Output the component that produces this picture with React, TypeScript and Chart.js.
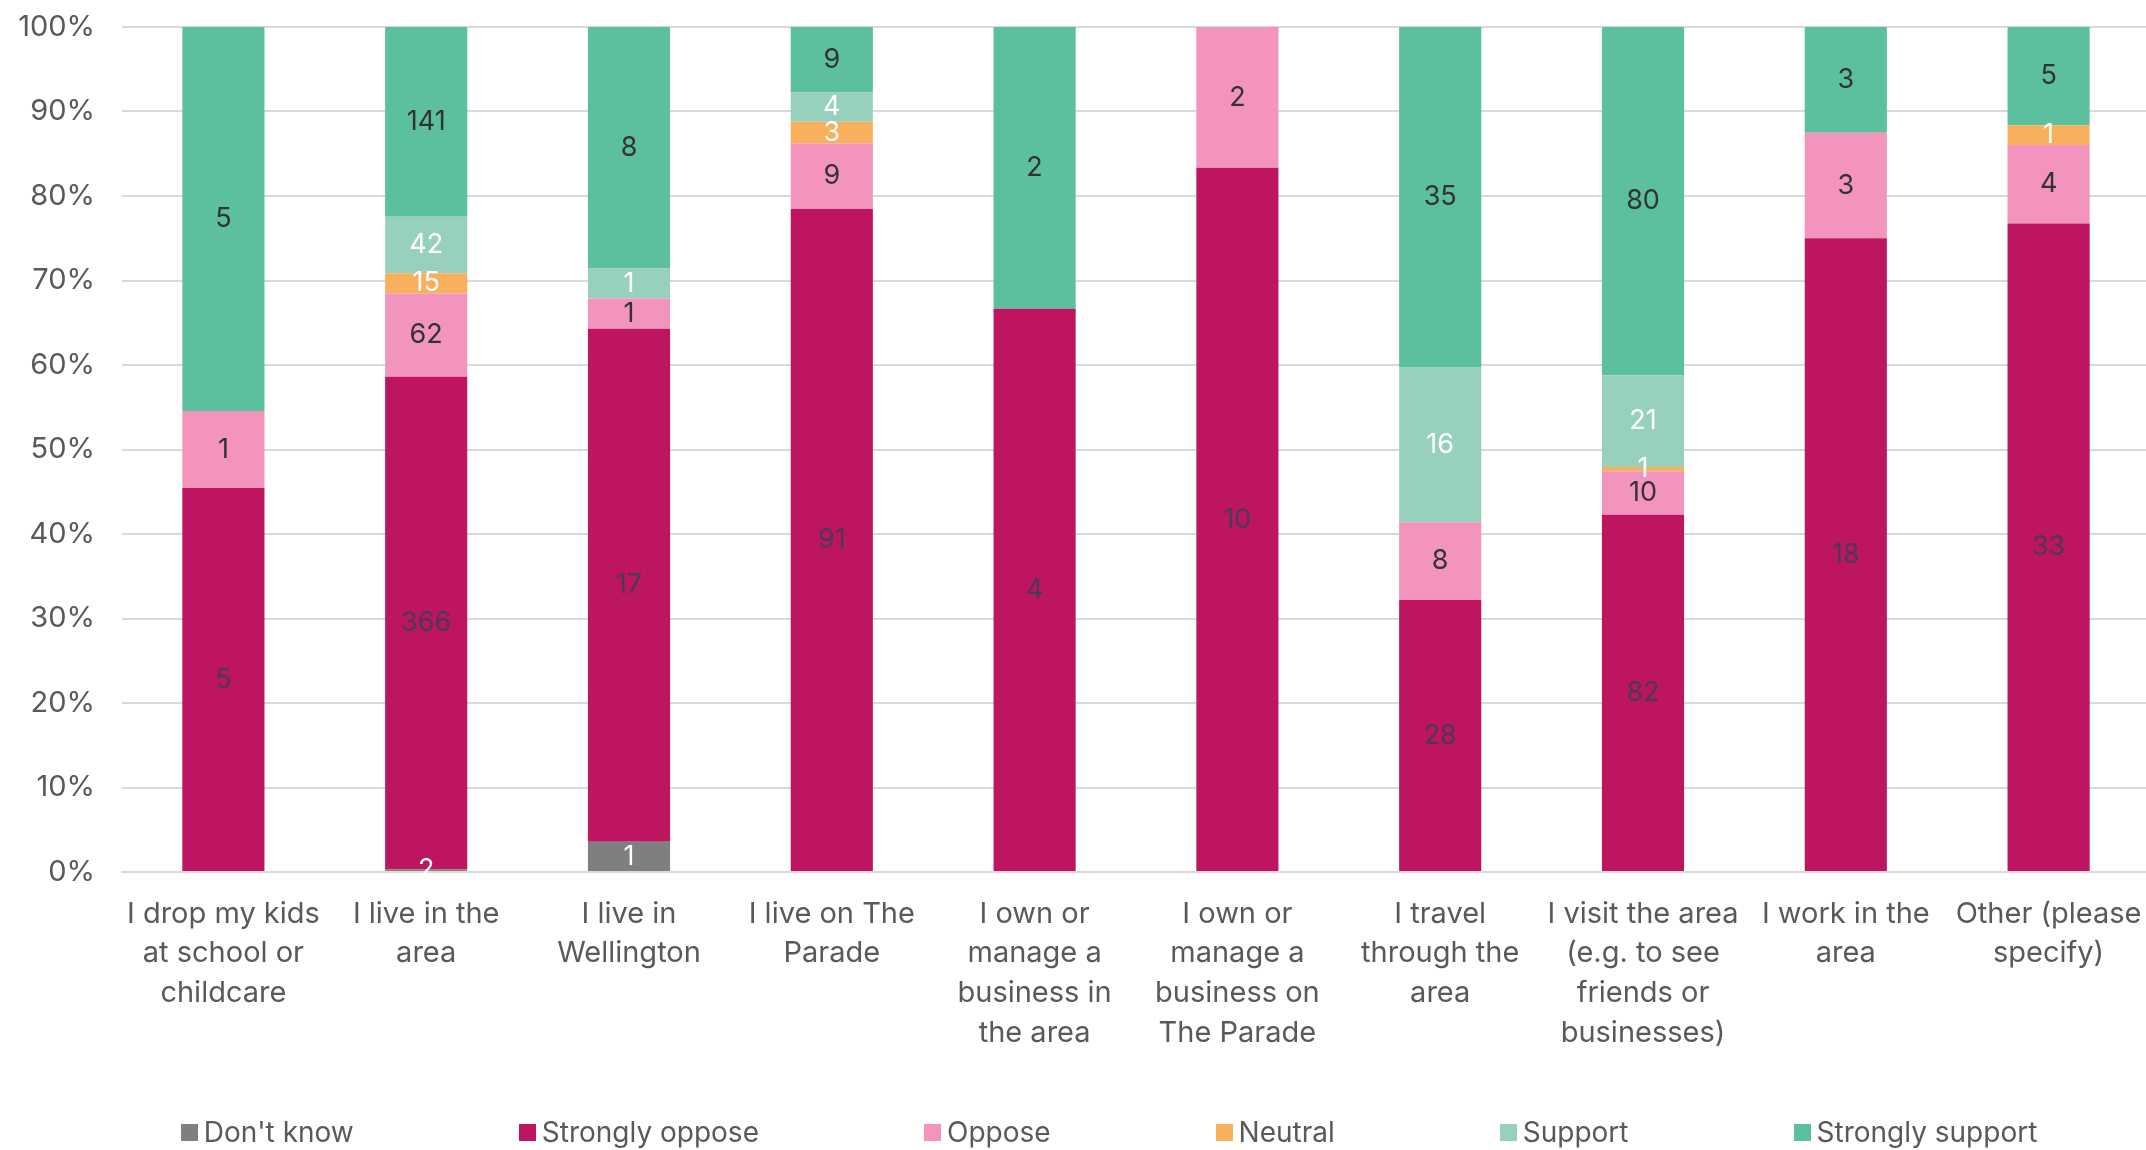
import React, { useEffect, useRef } from "react";
import { Chart, registerables } from "chart.js";

Chart.register(...registerables);

const categories: string[][] = [
  ["I drop my kids", "at school or", "childcare"],
  ["I live in the", "area"],
  ["I live in", "Wellington"],
  ["I live on The", "Parade"],
  ["I own or", "manage a", "business in", "the area"],
  ["I own or", "manage a", "business on", "The Parade"],
  ["I travel", "through the", "area"],
  ["I visit the area", "(e.g. to see", "friends or", "businesses)"],
  ["I work in the", "area"],
  ["Other (please", "specify)"],
];

const seriesNames = ["Don't know", "Strongly oppose", "Oppose", "Neutral", "Support", "Strongly support"];
const dontKnow = [0, 2, 1, 0, 0, 0, 0, 0, 0, 0];
const stronglyOppose = [5, 366, 17, 91, 4, 10, 28, 82, 18, 33];
const oppose = [1, 62, 1, 9, 0, 2, 8, 10, 3, 4];
const neutral = [0, 15, 0, 3, 0, 0, 0, 1, 0, 1];
const support = [0, 42, 1, 4, 0, 0, 16, 21, 0, 0];
const stronglySupport = [5, 141, 8, 9, 2, 0, 35, 80, 3, 5];
const yTicks = [0, 10, 20, 30, 40, 50, 60, 70, 80, 90, 100];

const colors = ["#7f7f7f", "#bd1560", "#f294bd", "#f8b05c", "#97d1bd", "#5cbf9d"];
const labelColors = ["#ffffff", "#4a3a55", "#333333", "#ffffff", "#ffffff", "#333333"];

const FONT = "Inter, 'Noto Sans', sans-serif";

export default function App() {
  const ref = useRef<HTMLCanvasElement | null>(null);

  useEffect(() => {
    if (!ref.current) return;
    const all = [dontKnow, stronglyOppose, oppose, neutral, support, stronglySupport];
    const totals = categories.map((_, i) => all.reduce((s, a) => s + a[i], 0));
    const datasets = all.map((arr, k) => ({
      label: seriesNames[k],
      data: arr.map((v, i) => (v / totals[i]) * 100),
      counts: arr,
      backgroundColor: colors[k],
      borderWidth: 0,
      barPercentage: 1,
      categoryPercentage: 0.405,
    }));

    const labelPlugin = {
      id: "segLabels",
      afterDatasetsDraw(chart: any) {
        const ctx = chart.ctx;
        ctx.save();
        ctx.font = `27px ${FONT}`;
        ctx.textAlign = "center";
        ctx.textBaseline = "middle";
        chart.data.datasets.forEach((ds: any, k: number) => {
          const meta = chart.getDatasetMeta(k);
          meta.data.forEach((el: any, i: number) => {
            const c = ds.counts[i];
            if (!c) return;
            ctx.fillStyle = labelColors[k];
            ctx.fillText(String(c), el.x, (el.y + el.base) / 2);
          });
        });
        ctx.restore();
      },
    };

    const chart = new Chart(ref.current, {
      type: "bar",
      data: { labels: categories, datasets: datasets as any },
      options: {
        animation: false,
        responsive: false,
        devicePixelRatio: 1,
        layout: { padding: { top: 27, left: 18, right: 70, bottom: 97 } },
        plugins: { legend: { display: false }, tooltip: { enabled: false } },
        scales: {
          x: {
            stacked: true,
            grid: { display: false, drawTicks: false },
            border: { color: "#d9d9d9", width: 2 },
            afterFit(scale: any) {
              scale.height = 181;
              scale.paddingLeft = 0;
              scale.paddingRight = 0;
            },
            ticks: {
              color: "#595959",
              font: { family: FONT, size: 29, lineHeight: 1.37 },
              padding: 22,
              maxRotation: 0,
              autoSkip: false,
            },
          },
          y: {
            stacked: true,
            min: 0,
            max: 100,
            afterBuildTicks(scale: any) {
              scale.ticks = yTicks.map((v) => ({ value: v }));
            },
            afterFit(scale: any) {
              scale.width = 104;
              scale.paddingTop = 0;
              scale.paddingBottom = 0;
            },
            grid: { color: "#d9d9d9", lineWidth: 2, drawTicks: false },
            border: { display: false },
            ticks: {
              color: "#595959",
              font: { family: FONT, size: 29 },
              padding: 27,
              callback: (v: any) => `${v}%`,
            },
          },
        },
      },
      plugins: [labelPlugin],
    });
    return () => chart.destroy();
  }, []);

  return (
    <div style={{ position: "fixed", left: 0, top: 0, width: 2146, height: 1150, overflow: "hidden", background: "#fff" }}>
      <canvas ref={ref} width={2220} height={1150} style={{ position: "absolute", left: 0, top: 0, width: 2220, height: 1150 }} />
      <div
        style={{
          position: "absolute",
          left: 0,
          width: 2218,
          top: 1113,
          display: "flex",
          justifyContent: "center",
          gap: 165,
          fontFamily: FONT,
          fontSize: 28,
          color: "#595959",
          lineHeight: "38px",
        }}
      >
        {seriesNames.map((n, k) => (
          <div key={n} style={{ display: "flex", alignItems: "center", whiteSpace: "nowrap" }}>
            <span style={{ display: "inline-block", width: 17, height: 17, background: colors[k], marginRight: 6 }} />
            {n}
          </div>
        ))}
      </div>
    </div>
  );
}
